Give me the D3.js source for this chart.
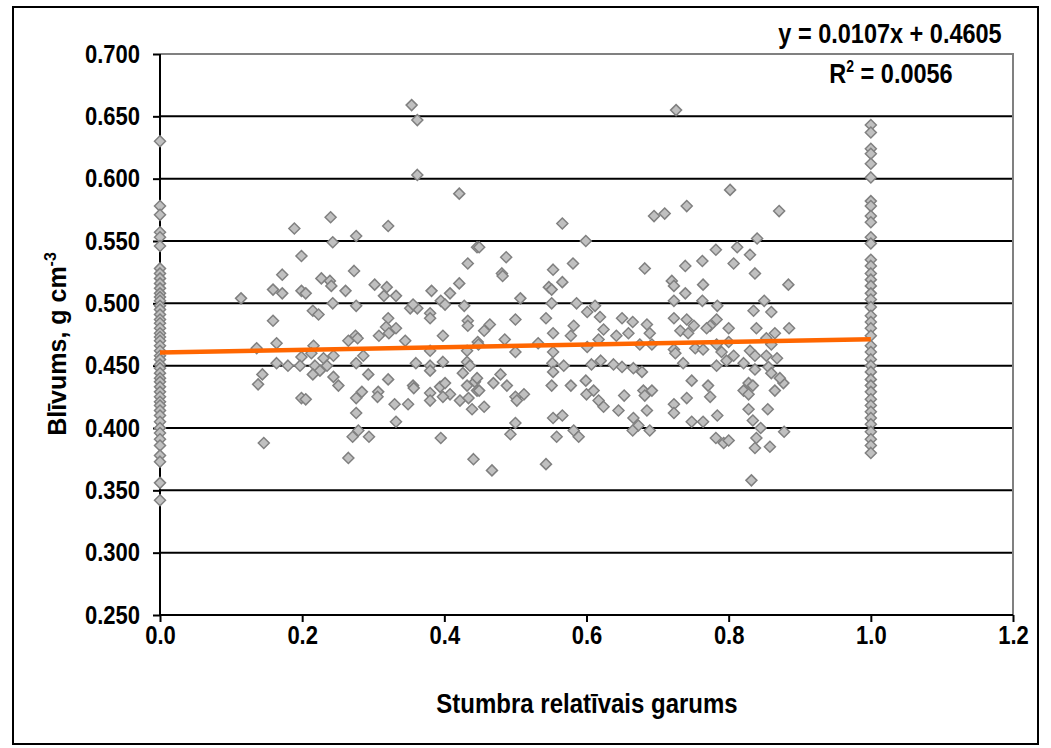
<!DOCTYPE html>
<html lang="lv">
<head>
  <meta charset="UTF-8" />
  <title>Blīvums pa stumbra garumu</title>
  <script src="https://d3js.org/d3.v7.min.js"></script>
  <style>
    body { margin: 0; background: #fff; }
    svg { display: block; }
    text { font-family: "Liberation Sans", Arial, sans-serif; font-weight: bold; fill: #000; }
    .grid line { stroke: #000; stroke-width: 2px; }
    .pt { fill: #c0c0c0; stroke: #808080; stroke-width: 1.5px; }
    .trend { stroke: #ff6600; stroke-width: 4.5px; fill: none; }
  </style>
</head>
<body>
  <svg id="chart" width="1051" height="748"></svg>

  <script>
    // axis ticks
    const xTicks = [0, 0.2, 0.4, 0.6, 0.8, 1.0, 1.2];
    const yTicks = [0.25, 0.30, 0.35, 0.40, 0.45, 0.50, 0.55, 0.60, 0.65, 0.70];

    // samples at stem base (x = 0)
    const baseY = [0.630, 0.578, 0.571, 0.557, 0.553, 0.546, 0.528, 0.524, 0.520, 0.516,
      0.512, 0.508, 0.505, 0.502, 0.498, 0.495, 0.491, 0.487, 0.484, 0.480, 0.476, 0.473,
      0.470, 0.466, 0.462, 0.458, 0.455, 0.451, 0.448, 0.444, 0.440, 0.437, 0.433, 0.429,
      0.425, 0.421, 0.418, 0.414, 0.410, 0.405, 0.400, 0.396, 0.391, 0.386, 0.378, 0.373,
      0.356, 0.342];

    // samples at stem top (x = 1.0)
    const topY = [0.643, 0.637, 0.624, 0.620, 0.612, 0.601, 0.582, 0.578, 0.570, 0.565,
      0.553, 0.548, 0.535, 0.530, 0.524, 0.519, 0.514, 0.508, 0.503, 0.497, 0.490, 0.485,
      0.480, 0.474, 0.466, 0.461, 0.455, 0.450, 0.445, 0.439, 0.434, 0.429, 0.423, 0.418,
      0.413, 0.408, 0.403, 0.397, 0.391, 0.386, 0.380];

    // samples along the stem [relative length, density]
    const midPoints = [
      [0.354,0.659],[0.362,0.647],[0.362,0.603],[0.421,0.588],[0.240,0.569],[0.189,0.560],
      [0.321,0.562],[0.243,0.549],[0.276,0.554],[0.446,0.545],[0.199,0.538],[0.433,0.532],
      [0.273,0.526],[0.172,0.523],[0.227,0.520],[0.239,0.518],[0.241,0.514],[0.159,0.511],
      [0.172,0.508],[0.199,0.510],[0.205,0.508],[0.261,0.510],[0.302,0.515],[0.319,0.513],
      [0.315,0.506],[0.332,0.506],[0.382,0.510],[0.408,0.508],[0.421,0.516],[0.395,0.502],
      [0.401,0.499],[0.114,0.504],[0.243,0.500],[0.276,0.498],[0.428,0.498],[0.215,0.494],
      [0.223,0.491],[0.159,0.486],[0.352,0.496],[0.362,0.496],[0.356,0.499],[0.380,0.492],
      [0.380,0.488],[0.321,0.488],[0.318,0.481],[0.332,0.480],[0.322,0.476],[0.308,0.474],
      [0.433,0.486],[0.433,0.482],[0.275,0.474],[0.278,0.472],[0.265,0.470],[0.345,0.470],
      [0.398,0.474],[0.164,0.468],[0.136,0.464],[0.216,0.466],[0.447,0.469],[0.380,0.462],
      [0.286,0.458],[0.244,0.458],[0.213,0.460],[0.199,0.457],[0.230,0.456],[0.432,0.462],
      [0.164,0.452],[0.180,0.450],[0.197,0.450],[0.218,0.450],[0.235,0.450],[0.276,0.452],
      [0.360,0.452],[0.380,0.450],[0.398,0.453],[0.432,0.453],[0.436,0.450],[0.380,0.446],
      [0.225,0.446],[0.144,0.443],[0.215,0.443],[0.244,0.441],[0.293,0.443],[0.321,0.439],
      [0.426,0.444],[0.138,0.435],[0.251,0.434],[0.356,0.434],[0.357,0.432],[0.394,0.433],
      [0.401,0.436],[0.432,0.434],[0.443,0.437],[0.446,0.430],[0.284,0.429],[0.307,0.429],
      [0.380,0.428],[0.408,0.427],[0.276,0.424],[0.306,0.425],[0.199,0.424],[0.205,0.423],
      [0.398,0.425],[0.380,0.422],[0.422,0.422],[0.434,0.424],[0.330,0.419],[0.349,0.419],
      [0.439,0.415],[0.276,0.412],[0.332,0.405],[0.279,0.398],[0.271,0.393],[0.294,0.393],
      [0.146,0.388],[0.395,0.392],[0.265,0.376],[0.441,0.375],
      [0.726,0.655],[0.802,0.591],[0.741,0.578],[0.695,0.570],[0.710,0.572],[0.871,0.574],
      [0.566,0.564],[0.599,0.550],[0.449,0.545],[0.840,0.552],[0.782,0.543],[0.812,0.545],
      [0.487,0.537],[0.581,0.532],[0.682,0.528],[0.739,0.530],[0.763,0.534],[0.807,0.532],
      [0.830,0.539],[0.481,0.524],[0.482,0.522],[0.553,0.527],[0.547,0.513],[0.551,0.511],
      [0.566,0.517],[0.720,0.518],[0.723,0.514],[0.764,0.515],[0.837,0.524],[0.884,0.515],
      [0.507,0.504],[0.739,0.508],[0.551,0.500],[0.586,0.500],[0.612,0.498],[0.601,0.493],
      [0.723,0.502],[0.763,0.502],[0.784,0.498],[0.850,0.502],[0.835,0.494],[0.860,0.493],
      [0.464,0.483],[0.456,0.478],[0.500,0.487],[0.543,0.488],[0.619,0.489],[0.650,0.488],
      [0.665,0.485],[0.685,0.483],[0.723,0.488],[0.741,0.487],[0.751,0.482],[0.783,0.487],
      [0.774,0.482],[0.582,0.482],[0.624,0.479],[0.839,0.480],[0.885,0.480],[0.485,0.471],
      [0.448,0.467],[0.532,0.468],[0.553,0.476],[0.578,0.474],[0.617,0.471],[0.642,0.474],
      [0.659,0.476],[0.689,0.476],[0.675,0.467],[0.692,0.467],[0.732,0.478],[0.743,0.476],
      [0.769,0.480],[0.800,0.480],[0.783,0.467],[0.800,0.469],[0.853,0.472],[0.865,0.476],
      [0.860,0.467],[0.500,0.461],[0.553,0.461],[0.601,0.465],[0.723,0.463],[0.725,0.460],
      [0.753,0.464],[0.764,0.463],[0.790,0.461],[0.807,0.458],[0.830,0.462],[0.837,0.458],
      [0.853,0.458],[0.552,0.452],[0.568,0.450],[0.553,0.445],[0.607,0.451],[0.620,0.454],
      [0.638,0.451],[0.650,0.449],[0.666,0.448],[0.678,0.445],[0.736,0.452],[0.783,0.450],
      [0.797,0.454],[0.821,0.452],[0.837,0.447],[0.856,0.449],[0.868,0.456],[0.860,0.444],
      [0.446,0.440],[0.469,0.436],[0.479,0.443],[0.488,0.434],[0.449,0.430],[0.456,0.417],
      [0.500,0.425],[0.502,0.422],[0.512,0.427],[0.551,0.434],[0.578,0.434],[0.599,0.438],
      [0.600,0.427],[0.610,0.430],[0.617,0.422],[0.624,0.417],[0.645,0.414],[0.653,0.426],
      [0.680,0.430],[0.682,0.426],[0.692,0.430],[0.685,0.414],[0.748,0.438],[0.771,0.434],
      [0.774,0.425],[0.741,0.424],[0.723,0.419],[0.723,0.412],[0.784,0.410],[0.828,0.436],
      [0.834,0.434],[0.821,0.430],[0.828,0.427],[0.828,0.415],[0.855,0.415],[0.865,0.430],
      [0.877,0.436],[0.872,0.440],[0.553,0.408],[0.566,0.410],[0.500,0.404],[0.493,0.395],
      [0.558,0.393],[0.582,0.398],[0.589,0.393],[0.666,0.408],[0.673,0.402],[0.665,0.398],
      [0.689,0.398],[0.748,0.405],[0.764,0.405],[0.782,0.392],[0.793,0.388],[0.800,0.390],
      [0.834,0.406],[0.845,0.400],[0.839,0.392],[0.837,0.384],[0.858,0.385],[0.878,0.397],
      [0.467,0.366],[0.543,0.371],[0.832,0.358]
    ];

    // linear trend from the chart label
    const slope = 0.0107, intercept = 0.4605, r2 = 0.0056;

    const svg = d3.select('#chart');
    const x = d3.scaleLinear().domain([0, 1.2]).range([160, 1013]);
    const y = d3.scaleLinear().domain([0.25, 0.70]).range([615, 54]);
    const stretch = 1.17; // text in the original is drawn a bit taller than wide

    // outer frame
    svg.append('rect').attr('x', 13).attr('y', 7).attr('width', 1025).attr('height', 737)
      .attr('fill', 'none').attr('stroke', '#000').attr('stroke-width', 2);

    // horizontal gridlines
    svg.append('g').attr('class', 'grid').selectAll('line')
      .data(yTicks.filter(v => v > 0.25 && v < 0.70)).join('line')
      .attr('x1', x(0)).attr('x2', x(1.2)).attr('y1', d => y(d)).attr('y2', d => y(d));

    // plot area border top/right in grey
    svg.append('path')
      .attr('d', `M${x(0)},${y(0.70)}H${x(1.2)}V${y(0.25)}`)
      .attr('fill', 'none').attr('stroke', '#808080').attr('stroke-width', 2);

    // axes
    const yAxis = d3.axisLeft(y).tickValues(yTicks).tickFormat(d3.format('.3f')).tickSize(7);
    const xAxis = d3.axisBottom(x).tickValues(xTicks).tickFormat(d3.format('.1f')).tickSize(7);

    const gy = svg.append('g').attr('transform', `translate(${x(0)},0)`).call(yAxis);
    const gx = svg.append('g').attr('transform', `translate(0,${y(0.25)})`).call(xAxis);
    [gy, gx].forEach(g => {
      g.select('.domain').attr('stroke', '#000').attr('stroke-width', 2);
      g.selectAll('.tick line').attr('stroke', '#000').attr('stroke-width', 2);
      g.selectAll('.tick text').attr('font-size', 22).attr('font-family', null)
        .attr('x', 0).attr('y', 0).attr('dy', null);
    });
    gy.select('.domain').attr('d', `M0,${y(0.70)}V${y(0.25)}`);
    gx.select('.domain').attr('d', `M${x(0)},0H${x(1.2)}`);
    gy.selectAll('.tick text').attr('transform', `translate(-20,8) scale(1,${stretch})`);
    gx.selectAll('.tick text').attr('transform', `translate(0,29) scale(1,${stretch})`);

    // markers
    const allPts = baseY.map(v => [0, v])
      .concat(midPoints)
      .concat(topY.map(v => [1.0, v]));
    const r = 5.5;
    svg.append('g').selectAll('path').data(allPts).join('path')
      .attr('class', 'pt')
      .attr('d', `M0,${-r}L${r},0L0,${r}L${-r},0Z`)
      .attr('transform', d => `translate(${x(d[0])},${y(d[1])})`);

    // trend line
    svg.append('line').attr('class', 'trend')
      .attr('x1', x(0)).attr('y1', y(intercept))
      .attr('x2', x(1)).attr('y2', y(slope + intercept));

    // stretched horizontal label helper
    function label(px, py, size) {
      return svg.append('text').attr('text-anchor', 'middle').attr('font-size', size)
        .attr('transform', `translate(${px},${py}) scale(1,${stretch})`);
    }

    // equation labels
    label(890, 43, 23.5).text(`y = ${slope.toFixed(4)}x + ${intercept.toFixed(4)}`);
    const rt = label(891, 83, 23.5);
    rt.append('tspan').text('R');
    rt.append('tspan').attr('dy', -9).attr('font-size', 14).text('2');
    rt.append('tspan').attr('dy', 9).text(` = ${r2.toFixed(4)}`);

    // axis titles
    label(587, 713, 24).text('Stumbra relatīvais garums');
    const yt = svg.append('text').attr('text-anchor', 'middle').attr('font-size', 25)
      .attr('transform', 'translate(66,344) rotate(-90)');
    yt.append('tspan').text('Blīvums, g cm');
    yt.append('tspan').attr('dy', -10).attr('font-size', 16).text('-3');
  </script>
</body>
</html>
